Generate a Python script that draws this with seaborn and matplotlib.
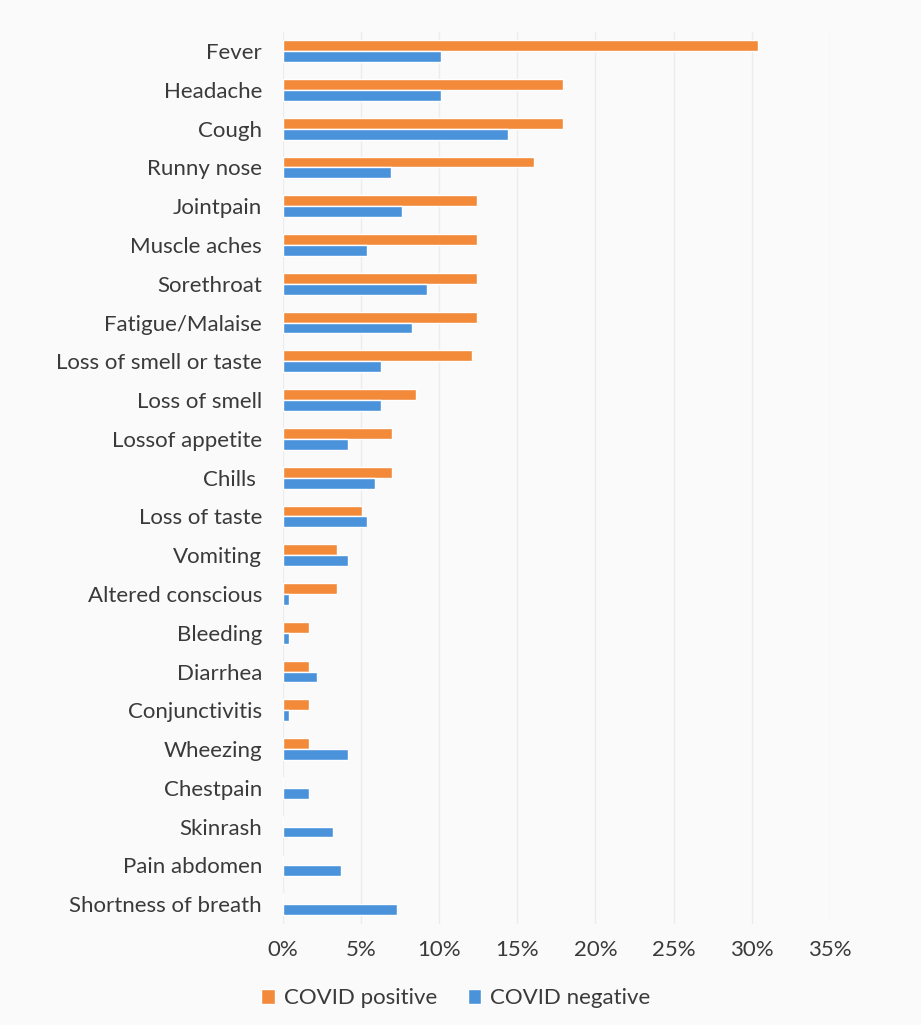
import numpy as np
import pandas as pd
import matplotlib
matplotlib.use("Agg")
import matplotlib.pyplot as plt
import seaborn as sns
from matplotlib.ticker import FuncFormatter

# ---- data (percent of patients) ----
symptoms = ["Fever", "Headache", "Cough", "Runny nose", "Jointpain", "Muscle aches",
            "Sorethroat", "Fatigue/Malaise", "Loss of smell or taste", "Loss of smell",
            "Lossof appetite", "Chills ", "Loss of taste", "Vomiting", "Altered conscious",
            "Bleeding", "Diarrhea", "Conjunctivitis", "Wheezing", "Chestpain", "Skinrash",
            "Pain abdomen", "Shortness of breath"]
covid_pos = [30.4, 17.9, 17.9, 16.1, 12.4, 12.4, 12.4, 12.4, 12.1, 8.5, 7.0, 7.0,
             5.1, 3.5, 3.5, 1.7, 1.7, 1.7, 1.7, 0.0, 0.0, 0.0, 0.0]
covid_neg = [10.1, 10.1, 14.4, 6.9, 7.6, 5.4, 9.2, 8.3, 6.3, 6.3, 4.2, 5.9,
             5.4, 4.2, 0.4, 0.4, 2.2, 0.4, 4.2, 1.7, 3.2, 3.7, 7.3]
groups = ["COVID positive", "COVID negative"]
colors = ["#F28A3A", "#4A93DB"]

df = pd.DataFrame({
    "symptom": symptoms * 2,
    "value": covid_pos + covid_neg,
    "group": [groups[0]] * len(symptoms) + [groups[1]] * len(symptoms),
})

sns.set_theme(style="white")
plt.rcParams["font.family"] = ["Lato", "DejaVu Sans"]

fig = plt.figure(figsize=(9.21, 10.25), dpi=100, facecolor="#fafafa")
ax = fig.add_axes([0.307, 0.099, 0.594, 0.870])
ax.set_facecolor("#fafafa")

sns.barplot(data=df, x="value", y="symptom", hue="group", hue_order=groups,
            order=symptoms, palette=colors, width=0.56, orient="h",
            saturation=1, ax=ax, legend=True)

ax.set_xlim(0, 35)
ax.set_xticks(np.arange(0, 36, 5))
ax.xaxis.set_major_formatter(FuncFormatter(lambda v, p: f"{v:.0f}%"))
ax.grid(axis="x", color="#ececec", linewidth=1)
ax.set_axisbelow(True)
for s in ax.spines.values():
    s.set_visible(False)
ax.set_xlabel("")
ax.set_ylabel("")
ax.tick_params(axis="y", labelsize=16, colors="#3a3a3a", length=0, pad=15)
ax.tick_params(axis="x", labelsize=16, colors="#3a3a3a", length=0, pad=12)

handles, labels = ax.get_legend_handles_labels()
ax.get_legend().remove()
fig.legend(handles, labels, loc="center", bbox_to_anchor=(0.495, 0.026), ncol=2,
           frameon=False, fontsize=16, handlelength=0.6, handleheight=0.7,
           handletextpad=0.4, columnspacing=1.4, labelcolor="#3a3a3a")

plt.savefig("out.png", dpi=100, facecolor=fig.get_facecolor())
plt.close()
